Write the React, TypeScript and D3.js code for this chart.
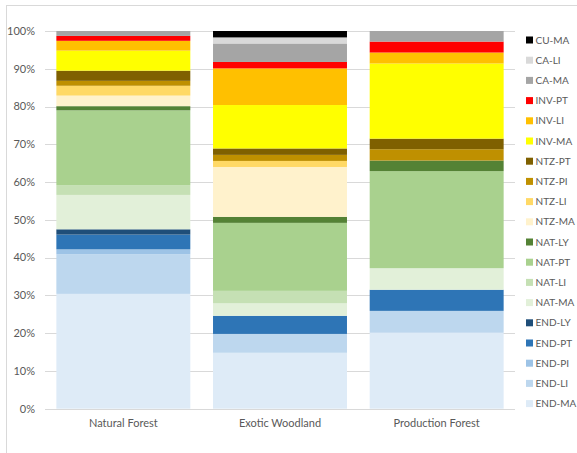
import React from "react";
import * as d3 from "d3";

const categories = ["Natural Forest", "Exotic Woodland", "Production Forest"];
// Series from bottom to top of stack
const seriesKeys = [
  "END-MA", "END-LI", "END-PI", "END-PT", "END-LY",
  "NAT-MA", "NAT-LI", "NAT-PT", "NAT-LY",
  "NTZ-MA", "NTZ-LI", "NTZ-PI", "NTZ-PT",
  "INV-MA", "INV-LI", "INV-PT",
  "CA-MA", "CA-LI", "CU-MA",
];
const seriesColors = [
  "#deebf7", "#bdd7ee", "#9dc3e6", "#2e75b6", "#1f4e79",
  "#e2f0d9", "#c5e0b4", "#a9d18e", "#548235",
  "#fff2cc", "#ffd966", "#bf9000", "#7f6000",
  "#ffff00", "#ffc000", "#ff0000",
  "#a5a5a5", "#d9d9d9", "#000000",
];
// values (%) per category, in seriesKeys order
const naturalForest = [30.4, 10.5, 1.3, 3.9, 1.4, 9.1, 2.6, 19.8, 1.1, 2.8, 2.6, 1.3, 2.7, 5.3, 2.6, 1.3, 1.3, 0, 0];
const exoticWoodland = [14.8, 5.0, 0, 4.8, 0, 3.3, 3.3, 18.0, 1.6, 13.2, 1.6, 1.6, 1.7, 11.5, 9.7, 1.7, 4.9, 1.6, 1.7];
const productionForest = [20.1, 5.8, 0, 5.6, 0, 5.7, 0, 25.7, 2.8, 0, 0, 3.0, 2.8, 19.9, 2.9, 2.9, 2.8, 0, 0];
const yTicks = [0, 0.1, 0.2, 0.3, 0.4, 0.5, 0.6, 0.7, 0.8, 0.9, 1.0];

const FONT = "Lato, 'Open Sans', sans-serif";
const TEXT = "#595959";

export default function App() {
  const W = 577, H = 453;
  const plotL = 45, plotR = 515, plotT = 31, plotB = 408.7;

  const valuesByCat = [naturalForest, exoticWoodland, productionForest];
  const table = categories.map((c, i) => {
    const row: any = { category: c };
    seriesKeys.forEach((k, j) => (row[k] = valuesByCat[i][j]));
    return row;
  });
  const stacked = d3.stack().keys(seriesKeys).offset(d3.stackOffsetExpand)(table);

  const x = d3.scaleBand<string>().domain(categories).range([plotL, plotR]).paddingInner(0.145).paddingOuter(0.0725);
  const y = d3.scaleLinear().domain([0, 1]).range([plotB, plotT]);
  const fmt = d3.format(".0%");

  const legendItems = seriesKeys.map((k, i) => ({ k, c: seriesColors[i] })).reverse();
  const legTop = 40, legStep = 20.2;

  return (
    <svg width={W} height={H} style={{ position: "absolute", left: 0, top: 0 }} fontFamily={FONT}>
      <rect x={0} y={0} width={W} height={H} fill="#fff" />
      <rect x={6.5} y={5.5} width={700} height={500} fill="none" stroke="#d9d9d9" strokeWidth={1} />
      {yTicks.map((t) => (
        <g key={t}>
          <line x1={plotL} x2={plotR} y1={Math.round(y(t)) + 0.5} y2={Math.round(y(t)) + 0.5} stroke="#d9d9d9" strokeWidth={1} />
          <text x={35} y={y(t)} dy="0.35em" textAnchor="end" fontSize={11} fill={TEXT}>{fmt(t)}</text>
        </g>
      ))}
      {stacked.map((s, si) => (
        <g key={s.key} fill={seriesColors[si]}>
          {s.map((d, di) => (
            d[1] - d[0] > 0 ? (
              <rect key={di} x={x(categories[di])} width={x.bandwidth()} y={y(d[1])} height={y(d[0]) - y(d[1])} />
            ) : null
          ))}
        </g>
      ))}
      {categories.map((c) => (
        <text key={c} x={(x(c) as number) + x.bandwidth() / 2} y={427} textAnchor="middle" fontSize={11} fill={TEXT}>{c}</text>
      ))}
      {legendItems.map((it, i) => (
        <g key={it.k} transform={`translate(526, ${legTop + i * legStep})`}>
          <rect x={0} y={-3.5} width={7} height={7} fill={it.c} />
          <text x={9.5} y={0} dy="0.35em" fontSize={10} fill={TEXT}>{it.k}</text>
        </g>
      ))}
    </svg>
  );
}
